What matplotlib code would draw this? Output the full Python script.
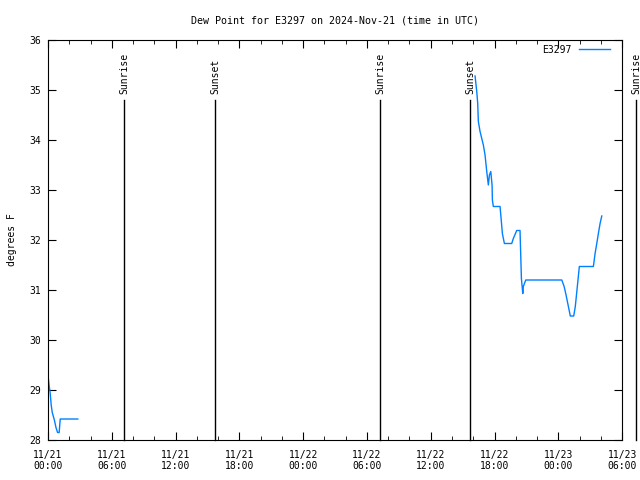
import numpy as np
import matplotlib
matplotlib.use("Agg")
import matplotlib.pyplot as plt
import matplotlib.dates as mdates
from datetime import datetime, timedelta

plt.rcParams['font.family'] = ['DejaVu Sans Mono']

start = datetime(2024, 11, 21, 0, 0)

# hours since 2024-11-21 00:00 UTC, dew point in F
hours_a = [0.0, 0.1, 0.2, 0.3, 0.4, 0.6, 0.75, 0.9, 1.05, 1.15, 2.8]
dew_a = [29.3, 29.1, 28.95, 28.7, 28.55, 28.4, 28.25, 28.15, 28.15, 28.42, 28.42]

hours_b = [40.17, 40.33, 40.42, 40.48, 40.64, 40.80, 40.95, 41.11, 41.27, 41.42,
           41.52, 41.65, 41.77, 41.80, 41.89, 42.52, 42.62, 42.74, 42.93, 43.62,
           43.77, 44.09, 44.40, 44.53, 44.66, 44.71, 44.94, 48.33, 48.55, 48.73,
           48.95, 49.13, 49.45, 49.60, 49.79, 49.98, 51.30, 51.46, 51.62, 51.77,
           51.93, 52.09]
dew_b = [35.28, 34.97, 34.73, 34.37, 34.17, 34.03, 33.9, 33.7, 33.37, 33.1,
         33.3, 33.37, 33.1, 32.8, 32.67, 32.67, 32.43, 32.13, 31.93, 31.93,
         32.03, 32.19, 32.19, 31.23, 30.93, 31.07, 31.2, 31.2, 31.07, 30.9,
         30.67, 30.48, 30.48, 30.67, 31.07, 31.47, 31.47, 31.73, 31.93, 32.13,
         32.33, 32.48]

# sun events (hours since start)
event_hours = [7.15, 15.72, 31.23, 39.7, 55.3]
event_labels = ["Sunrise", "Sunset", "Sunrise", "Sunset", "Sunrise"]

to_dt = lambda hs: [start + timedelta(hours=h) for h in hs]
times = to_dt(hours_a) + [start + timedelta(hours=20)] + to_dt(hours_b)
values = dew_a + [np.nan] + dew_b

fig = plt.figure(figsize=(6.4, 4.8), dpi=100)
ax = fig.add_axes([0.075, 0.0833, 0.897, 0.8334])

ax.plot(times, values, color='#0080ff', lw=1.0, label='E3297')

for h, lab in zip(event_hours, event_labels):
    t = start + timedelta(hours=h)
    ax.plot([t, t], [0, 0.85], color='black', lw=1.0,
            transform=ax.get_xaxis_transform(), clip_on=False)
    ax.text(t, 0.865, lab, rotation=90, ha='center', va='bottom', fontsize=7,
            transform=ax.get_xaxis_transform(), clip_on=False)

ax.set_xlim(start, start + timedelta(hours=54))
ax.set_ylim(28, 36)
ax.xaxis.set_major_locator(mdates.HourLocator(byhour=[0, 6, 12, 18]))
ax.xaxis.set_minor_locator(mdates.HourLocator(interval=2))
ax.xaxis.set_major_formatter(mdates.DateFormatter('%m/%d\n%H:%M'))
ax.tick_params(which='both', direction='in', top=True, right=True, labelsize=7)
ax.tick_params(which='major', length=6)
ax.tick_params(which='minor', length=3)
ax.tick_params(axis='x', pad=7)
ax.tick_params(axis='y', pad=5)

ax.set_title('Dew Point for E3297 on 2024-Nov-21 (time in UTC)', fontsize=7.2, pad=12)
ax.set_ylabel('degrees F', fontsize=7, labelpad=9)
ax.legend(loc='upper right', bbox_to_anchor=(0.995, 1.01), frameon=False,
          markerfirst=False, fontsize=7, handlelength=3.2)

plt.savefig('out.png', dpi=100)
